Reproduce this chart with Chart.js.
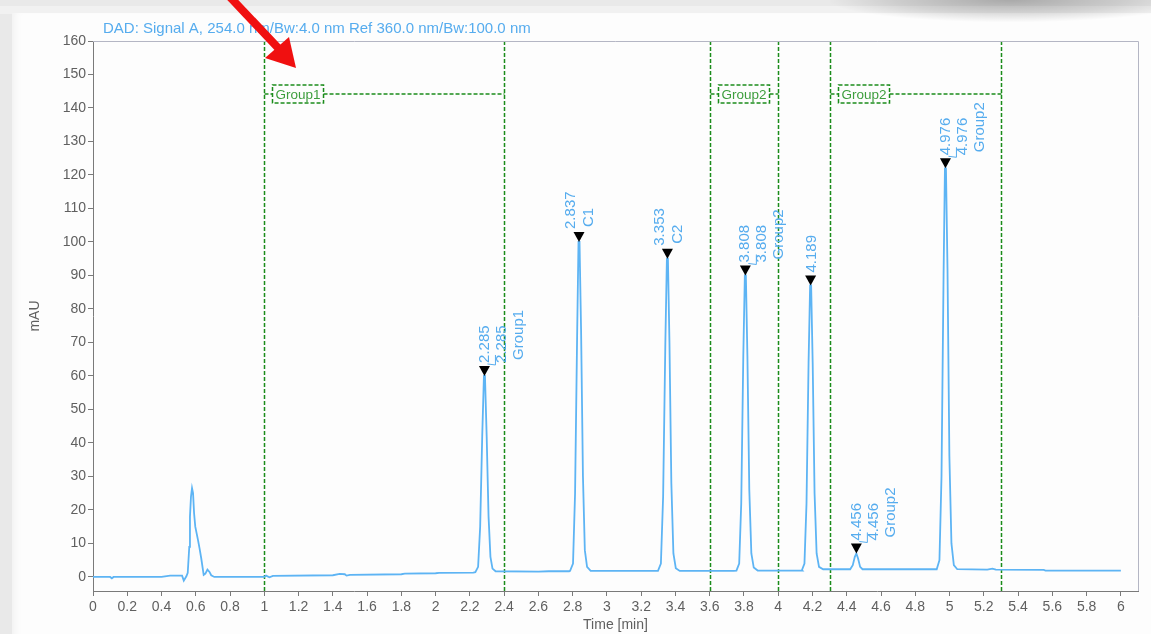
<!DOCTYPE html>
<html>
<head>
<meta charset="utf-8">
<script src="https://cdn.jsdelivr.net/npm/chart.js@4.4.1/dist/chart.umd.min.js"></script>
<style>
  html, body { margin: 0; padding: 0; }
  body { width: 1151px; height: 634px; background: #e9e9e9; position: relative; overflow: hidden; }
  #panel { position: absolute; left: 12px; top: 13px; right: 0; bottom: 0; background: #fdfdfd;
           box-shadow: inset 10px 2px 10px -8px rgba(0,0,0,0.06); }
  #strip { position: absolute; left: 0; top: 6px; right: 0; height: 8px; background: #f1f1f1; }
  #shadow { position: absolute; left: 830px; top: -8px; width: 360px; height: 30px;
            background: radial-gradient(ellipse at 50% 25%, rgba(0,0,0,0.28) 0%, rgba(0,0,0,0.12) 45%, rgba(0,0,0,0) 72%); }
  #chart { position: absolute; left: 0; top: 0; }
  #arrow { position: absolute; left: 0; top: 0; }
</style>
</head>
<body>
<div id="strip"></div>
<div id="panel"></div>
<div id="shadow"></div>
<canvas id="chart" width="1151" height="634"></canvas>
<svg id="arrow" width="1151" height="634">
  <line x1="229" y1="-4" x2="281" y2="51" stroke="#f01010" stroke-width="8"/>
  <polygon points="296,68 265,58 289,37" fill="#f01010"/>
</svg>
<script>
// signal A trace (min, mAU)
const signalTime = [
  0, 0.1, 0.11, 0.12, 0.4, 0.45, 0.52, 0.53, 0.545, 0.553, 0.562, 0.566, 0.572, 0.578, 0.584, 0.59, 0.597,
  0.605, 0.613, 0.622, 0.632, 0.646, 0.656, 0.668, 0.68, 0.69, 0.708,
  1.0, 1.01, 1.03, 1.05, 1.4, 1.44, 1.47, 1.48, 1.5, 1.8, 1.82, 2.0, 2.02, 2.22,
  2.232, 2.248, 2.26, 2.272, 2.282, 2.288, 2.298, 2.309, 2.32, 2.332, 2.35, 2.6, 2.66, 2.78,
  2.785, 2.802, 2.814, 2.826, 2.834, 2.84, 2.849, 2.86, 2.871, 2.884, 2.905, 3.28,
  3.298, 3.315, 3.328, 3.341, 3.35, 3.356, 3.365, 3.376, 3.388, 3.402, 3.425, 3.74,
  3.756, 3.772, 3.784, 3.796, 3.805, 3.811, 3.82, 3.831, 3.843, 3.857, 3.88, 4.14,
  4.138, 4.153, 4.165, 4.177, 4.186, 4.192, 4.201, 4.212, 4.224, 4.238, 4.262, 4.4,
  4.42, 4.435, 4.447, 4.456, 4.466, 4.478, 4.492, 4.9,
  4.925, 4.941, 4.953, 4.965, 4.973, 4.979, 4.988, 4.999, 5.011, 5.025, 5.045, 5.22, 5.25, 5.27, 5.55, 5.56, 6.0
];
const signalValue = [
  0, 0, -0.4, 0, 0, 0.4, 0.4, -1.1, 0.2, 1.2, 9, 18, 24, 26.5, 25, 19, 15,
  13, 11, 8.5, 5.5, 0.6, 1, 2.2, 1.5, 0.5, 0,
  0, 0.4, -0.1, 0.3, 0.5, 0.9, 0.8, 0.4, 0.6, 0.8, 1.0, 1.1, 1.2, 1.3,
  1.4, 3, 15, 42, 60, 60, 42, 18, 6, 2.5, 1.7, 1.6, 1.7, 1.7,
  1.8, 4, 25, 72, 100, 100, 74, 30, 8, 3, 1.8, 1.8,
  1.8, 4, 24, 70, 95, 95, 70, 28, 7, 2.6, 1.8, 1.8,
  1.9, 4, 22, 66, 90, 90, 66, 26, 7, 2.8, 1.9, 1.9,
  2, 4, 22, 64, 87, 87, 64, 25, 7, 3, 2.3, 2.3,
  2.3, 3.5, 6, 7, 5.5, 3, 2.3, 2.3,
  2.3, 5, 30, 90, 122, 122, 92, 36, 10, 3.5, 2.3, 2.2, 2.5, 2.2, 2.1, 1.9, 1.9
];

// integrated peaks
const peakTimes = [2.285, 2.837, 3.353, 3.808, 4.189, 4.456, 4.976];
const peakHeights = [60, 100, 95, 90, 87, 7, 122];
const peakNames = ['', 'C1', 'C2', '', '', '', ''];
const peakGroups = ['Group1', '', '', 'Group2', '', 'Group2', 'Group2'];

// timed groups
const groupStarts = [1.0, 3.6, 4.3];
const groupEnds = [2.4, 4.0, 5.3];
const groupNames = ['Group1', 'Group2', 'Group2'];

const titleText = 'DAD: Signal A, 254.0 nm/Bw:4.0 nm Ref 360.0 nm/Bw:100.0 nm';

const blue = '#56acee';
const green = '#1b8c1b';
const tickColor = '#606060';

const annotations = {
  id: 'annotations',
  beforeDatasetsDraw(chart) {
    const {ctx, chartArea: a, scales: {x}} = chart;
    const yLine = a.top + 53;
    ctx.save();
    ctx.strokeStyle = green;
    ctx.lineWidth = 1.5;
    ctx.setLineDash([4, 2]);
    ctx.font = '13.5px "Liberation Sans", Arial, sans-serif';
    ctx.textBaseline = 'middle';
    ctx.textAlign = 'center';
    groupStarts.forEach((s, i) => {
      const x0 = Math.round(x.getPixelForValue(s)) + 0.5;
      const x1 = Math.round(x.getPixelForValue(groupEnds[i])) + 0.5;
      ctx.beginPath();
      ctx.moveTo(x0, a.top); ctx.lineTo(x0, a.bottom);
      ctx.moveTo(x1, a.top); ctx.lineTo(x1, a.bottom);
      ctx.stroke();
      const w = ctx.measureText(groupNames[i]).width + 6;
      const bx = x0 + 8;
      ctx.beginPath();
      ctx.moveTo(x0, yLine); ctx.lineTo(bx, yLine);
      ctx.moveTo(bx + w, yLine); ctx.lineTo(x1, yLine);
      ctx.stroke();
      ctx.strokeRect(bx, yLine - 9, w, 18);
      ctx.fillStyle = '#3e9e3e';
      ctx.fillText(groupNames[i], bx + w / 2, yLine + 1);
    });
    ctx.restore();
  },
  afterDatasetsDraw(chart) {
    const {ctx, chartArea: a, scales: {x, y}} = chart;
    ctx.save();
    // frame top / right
    ctx.strokeStyle = '#b4b6c4';
    ctx.lineWidth = 1;
    ctx.beginPath();
    ctx.moveTo(a.left, a.top + 0.5); ctx.lineTo(a.right + 0.5, a.top + 0.5); ctx.lineTo(a.right + 0.5, a.bottom);
    ctx.stroke();

    // title
    ctx.fillStyle = blue;
    ctx.font = '15px "Liberation Sans", Arial, sans-serif';
    ctx.textAlign = 'left';
    ctx.textBaseline = 'middle';
    ctx.fillText(titleText, a.left + 10, a.top - 12);

    // peak markers and labels
    peakTimes.forEach((t, i) => {
      const px = x.getPixelForValue(t);
      const py = y.getPixelForValue(peakHeights[i]);
      ctx.fillStyle = '#000';
      ctx.beginPath();
      ctx.moveTo(px, py);
      ctx.lineTo(px - 5.5, py - 10);
      ctx.lineTo(px + 5.5, py - 10);
      ctx.closePath();
      ctx.fill();

      const label = t.toFixed(3);
      let texts, offs;
      if (peakGroups[i]) { texts = [label, label, peakGroups[i]]; offs = [0, 17, 34]; }
      else if (peakNames[i]) { texts = [label, peakNames[i]]; offs = [-8, 10]; }
      else { texts = [label]; offs = [1]; }
      const base = py - 13;
      ctx.fillStyle = blue;
      ctx.strokeStyle = blue;
      ctx.lineWidth = 1;
      ctx.font = '15px "Liberation Sans", Arial, sans-serif';
      ctx.textAlign = 'left';
      ctx.textBaseline = 'middle';
      texts.forEach((s, k) => {
        const b = base + (k === 2 ? -3 : (k === 1 && texts.length === 2 ? -2 : 0));
        ctx.save();
        ctx.translate(px + offs[k], b);
        ctx.rotate(-Math.PI / 2);
        ctx.fillText(s, 0, 0);
        ctx.restore();
      });
      if (texts.length === 3) {
        ctx.beginPath();
        ctx.moveTo(px + 3, base + 1);
        ctx.lineTo(px + 11, base + 2);
        ctx.lineTo(px + 11, base - 8);
        ctx.stroke();
      }
    });
    ctx.restore();
  }
};

const tickFont = { family: '"Liberation Sans", Arial, sans-serif', size: 14 };

new Chart(document.getElementById('chart'), {
  type: 'scatter',
  data: {
    datasets: [{
      data: signalTime.map((t, i) => ({ x: t, y: signalValue[i] })),
      showLine: true,
      borderColor: '#5db4f4',
      borderWidth: 1.8,
      pointRadius: 0,
      tension: 0,
    }]
  },
  options: {
    responsive: false,
    animation: false,
    layout: { padding: { top: 41, right: 13, left: 0, bottom: 0 } },
    plugins: { legend: { display: false }, tooltip: { enabled: false } },
    scales: {
      x: {
        type: 'linear',
        min: 0,
        max: 6.1,
        ticks: {
          stepSize: 0.2, includeBounds: false, autoSkip: false, maxRotation: 0,
          font: tickFont, color: tickColor, padding: 3,
          callback: (v) => String(Math.round(v * 10) / 10),
        },
        grid: { drawOnChartArea: false, tickLength: 5, color: '#7a7a7a' },
        border: { color: '#7a7a7a' },
        title: { display: true, text: 'Time [min]', font: tickFont, color: tickColor, padding: { top: 0, bottom: 0 } },
        afterFit: (s) => { s.height = 43; },
      },
      y: {
        min: -4.2,
        max: 160,
        ticks: { stepSize: 10, includeBounds: false, font: tickFont, color: tickColor, padding: 2 },
        grid: { drawOnChartArea: false, tickLength: 5, color: '#7a7a7a' },
        border: { color: '#7a7a7a' },
        title: { display: true, text: 'mAU', font: tickFont, color: tickColor, padding: { top: 27, bottom: 0 } },
        afterFit: (s) => { s.width = 93; },
      }
    }
  },
  plugins: [annotations]
});
</script>
</body>
</html>
